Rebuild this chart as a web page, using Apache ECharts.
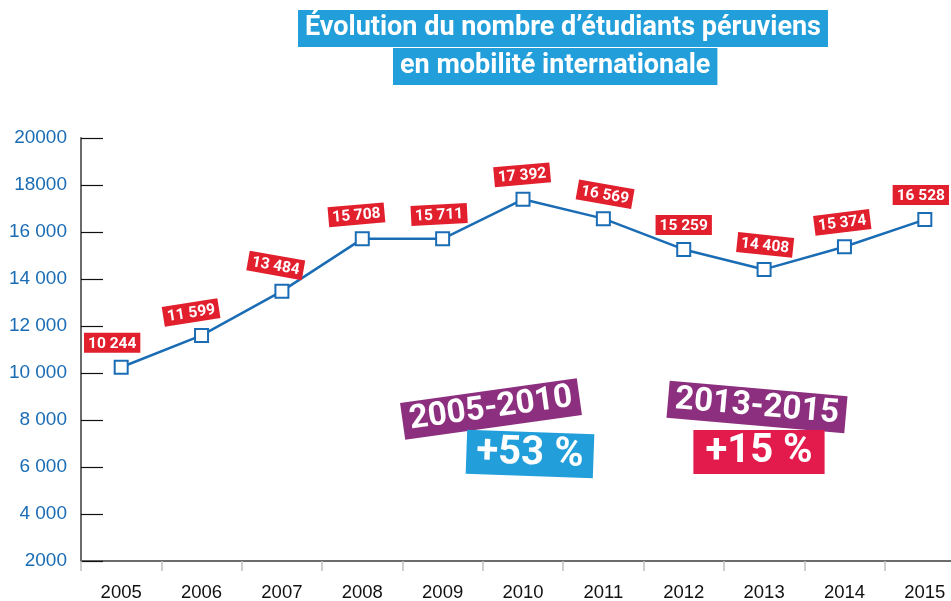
<!DOCTYPE html>
<html>
<head>
<meta charset="utf-8">
<script src="https://cdn.jsdelivr.net/npm/echarts@6/dist/echarts.min.js"></script>
<style>html,body{margin:0;padding:0;background:#fff}#c{width:951px;height:601px}</style>
</head>
<body>
<div id="c"></div>
<script>
var years = ['2005','2006','2007','2008','2009','2010','2011','2012','2013','2014','2015'];
var students = [10244, 11599, 13484, 15708, 15711, 17392, 16569, 15259, 14408, 15374, 16528];
var yTickLabels = ['2000','4 000','6 000','8 000','10 000','12 000','14 000','16 000','18000','20000'];
var titleLines = ['Évolution du nombre d’étudiants péruviens', 'en mobilité internationale'];
var periodA = '2005-2010', growthA = '+53 %';
var periodB = '2013-2015', growthB = '+15 %';

var labelTilt = [0, 9, -10, 5, 3, 5, -10, 0, -6, 7, 0];
var labelShift = [-9, -9, -8, -5, -3, 0, 0, 0, 0, -1, -4];

function fmt(v){ return String(v).replace(/\B(?=(\d{3})+(?!\d))/g, ' '); }

var chart = echarts.init(document.getElementById('c'), null, {renderer:'canvas'});
var sans = '"Liberation Sans", Arial, sans-serif';
var bold = 'Roboto, "Noto Sans", sans-serif';

var dataItems = students.map(function(v, i){
  return { value: v, label: { rotate: labelTilt[i], offset: [labelShift[i], 0] } };
});

function tag(text, cx, cy, bg, size, rot, pad){
  return {
    type: 'text', x: cx, y: cy, rotation: rot * Math.PI / 180, z: 10,
    style: {
      text: text, fill: '#fff', font: 'bold ' + size + 'px ' + bold,
      align: 'center', verticalAlign: 'middle',
      backgroundColor: bg, padding: pad
    }
  };
}

chart.setOption({
  animation: false,
  title: [
    { text: titleLines[0], left: 298, top: 10, backgroundColor: '#229fda', padding: [3, 7, 3, 7],
      textStyle: { color: '#fff', fontFamily: bold, fontWeight: 'bold', fontSize: 27, lineHeight: 31 } },
    { text: titleLines[1], left: 393, top: 48, backgroundColor: '#229fda', padding: [3, 7, 3, 7],
      textStyle: { color: '#fff', fontFamily: bold, fontWeight: 'bold', fontSize: 27, lineHeight: 31 } }
  ],
  grid: { left: 81, top: 138, bottom: 40, right: -14, containLabel: false, outerBoundsMode: 'none' },
  xAxis: {
    type: 'category', data: years, boundaryGap: true,
    axisLine: { lineStyle: { color: '#6b6b6b', width: 2 } },
    axisTick: { show: true, length: 10, lineStyle: { color: '#c0c0c0', width: 1.5 } },
    axisLabel: { color: '#111', fontFamily: sans, fontSize: 18.5, margin: 22 },
    splitLine: { show: false }
  },
  yAxis: {
    type: 'value', min: 2000, max: 20000, interval: 2000,
    axisLine: { show: true, lineStyle: { color: '#6b6b6b', width: 2 } },
    axisTick: { show: true, inside: true, length: 22, lineStyle: { color: '#111', width: 1.2 } },
    axisLabel: { color: '#1a6cb4', fontFamily: sans, fontSize: 19, margin: 14,
      formatter: function(v){ return yTickLabels[Math.round((v - 2000) / 2000)]; } },
    splitLine: { show: false }
  },
  series: [{
    type: 'line', data: dataItems,
    lineStyle: { color: '#1a6cb4', width: 2.5 },
    symbol: 'rect', symbolSize: 13,
    itemStyle: { color: '#fff', borderColor: '#1a6cb4', borderWidth: 2 },
    label: {
      show: true, position: 'top', distance: 7,
      formatter: function(p){ return fmt(p.value); },
      color: '#fff', fontFamily: bold, fontWeight: 'bold', fontSize: 15.5,
      backgroundColor: '#e11f2d', padding: [3, 4, 1, 4]
    }
  }],
  graphic: [
    tag(periodA, 491, 409, '#8c2f7f', 33, 8, [2, 7, 2, 7]),
    tag(growthA, 530, 454, '#229fda', 40, -2, [2, 10, 2, 10]),
    tag(periodB, 757, 407, '#8c2f7f', 33, -5, [2, 7, 2, 7]),
    tag(growthB, 759, 452, '#e21b4c', 40, 0, [2, 12, 2, 12])
  ]
});
</script>
</body>
</html>
